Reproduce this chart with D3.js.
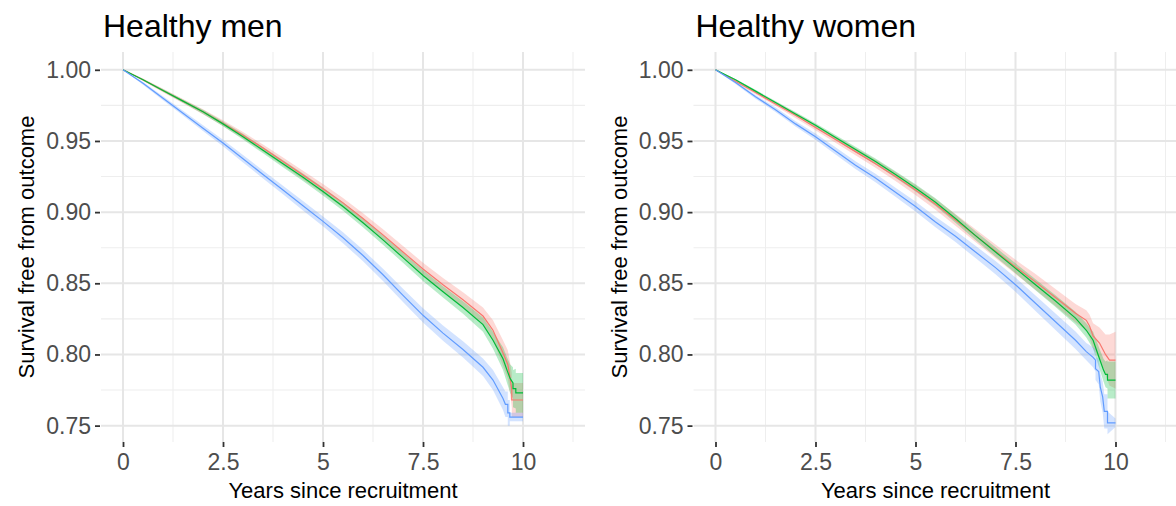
<!DOCTYPE html>
<html>
<head>
<meta charset="utf-8">
<script src="https://cdn.jsdelivr.net/npm/d3@7"></script>
<style>
  html, body { margin: 0; padding: 0; background: #ffffff; }
  svg { display: block; font-family: "Liberation Sans", Arial, sans-serif; }
</style>
</head>
<body>
<svg id="chart" width="1176" height="506"></svg>
<script>
// ---------------- DATA ----------------
const panelTitles = ["Healthy men", "Healthy women"];
const xTickValues = [0, 2.5, 5, 7.5, 10];
const xTickLabels = ["0", "2.5", "5", "7.5", "10"];
const xMinorValues = [1.25, 3.75, 6.25, 8.75, 11.25];
const yTickValues = [0.75, 0.80, 0.85, 0.90, 0.95, 1.00];
const yTickLabels = ["0.75", "0.80", "0.85", "0.90", "0.95", "1.00"];
const yMinorValues = [0.775, 0.825, 0.875, 0.925, 0.975];
const seriesColors = ["#F8766D", "#00BA38", "#619CFF"];

// common time grid (years) for the main part of each curve
const yearsGrid = [0, 0.5, 1, 1.5, 2, 2.5, 3, 3.5, 4, 4.5, 5, 5.5, 6, 6.5, 7, 7.5, 8, 8.5, 9];

// Healthy men: survival estimates on the grid
const menRed   = [1, 0.993, 0.9855, 0.978, 0.9705, 0.9625, 0.954, 0.945, 0.9355, 0.926, 0.9165, 0.9065, 0.8955, 0.884, 0.872, 0.860, 0.849, 0.8385, 0.827];
const menGreen = [1, 0.993, 0.9855, 0.978, 0.9705, 0.962, 0.953, 0.9435, 0.934, 0.9245, 0.9145, 0.904, 0.8925, 0.8805, 0.868, 0.8555, 0.844, 0.833, 0.821];
const menBlue  = [1, 0.9905, 0.980, 0.9695, 0.959, 0.9485, 0.9375, 0.9265, 0.9155, 0.9045, 0.8935, 0.882, 0.8695, 0.856, 0.8415, 0.8275, 0.815, 0.8035, 0.791];
// confidence half-widths on the grid
const menRedCI   = [0, 0.0008, 0.0012, 0.0015, 0.0018, 0.002, 0.0023, 0.0025, 0.0028, 0.003, 0.0032, 0.0035, 0.0037, 0.004, 0.0042, 0.0045, 0.0048, 0.0052, 0.006];
const menGreenCI = [0, 0.0006, 0.001, 0.0012, 0.0015, 0.0017, 0.002, 0.0022, 0.0024, 0.0026, 0.0028, 0.003, 0.0032, 0.0034, 0.0036, 0.0038, 0.004, 0.0044, 0.005];
const menBlueCI  = [0, 0.001, 0.0014, 0.0017, 0.002, 0.0023, 0.0026, 0.0028, 0.003, 0.0033, 0.0035, 0.0038, 0.004, 0.0043, 0.0046, 0.005, 0.0053, 0.0057, 0.0062];
// tails: [year, estimate, half-width]
const menRedTail   = [[9.25, 0.817, 0.007], [9.5, 0.801, 0.009], [9.62, 0.793, 0.010], [9.68, 0.783, 0.011], [9.72, 0.775, 0.012], [9.72, 0.768, 0.012], [10, 0.768, 0.012]];
const menGreenTail = [[9.25, 0.810, 0.006], [9.5, 0.797, 0.008], [9.6, 0.789, 0.009], [9.68, 0.783, 0.010], [9.75, 0.780, 0.011], [9.75, 0.776, 0.013], [9.82, 0.776, 0.014], [9.82, 0.773, 0.014], [10, 0.773, 0.014]];
const menBlueTail  = [[9.25, 0.782, 0.007], [9.5, 0.769, 0.008], [9.56, 0.765, 0.009], [9.62, 0.765, 0.009], [9.62, 0.759, 0.009], [9.67, 0.759, 0.009], [9.67, 0.756, 0.003], [10, 0.756, 0.003]];

// Healthy women
const womenRed   = [1, 0.992, 0.984, 0.976, 0.968, 0.9595, 0.951, 0.9425, 0.934, 0.925, 0.9155, 0.9055, 0.8945, 0.8835, 0.8725, 0.8615, 0.851, 0.840, 0.829];
const womenGreen = [1, 0.993, 0.985, 0.977, 0.969, 0.961, 0.9525, 0.944, 0.9355, 0.9265, 0.917, 0.907, 0.8955, 0.8835, 0.872, 0.8605, 0.849, 0.8375, 0.8255];
const womenBlue  = [1, 0.991, 0.981, 0.972, 0.962, 0.953, 0.943, 0.933, 0.924, 0.914, 0.904, 0.893, 0.883, 0.872, 0.861, 0.849, 0.836, 0.823, 0.810];
const womenRedCI   = [0, 0.0008, 0.0012, 0.0015, 0.0018, 0.002, 0.0023, 0.0026, 0.0029, 0.0032, 0.0035, 0.0038, 0.0041, 0.0044, 0.0047, 0.005, 0.0055, 0.006, 0.0065];
const womenGreenCI = [0, 0.0006, 0.0009, 0.0011, 0.0013, 0.0015, 0.0017, 0.0019, 0.0021, 0.0023, 0.0025, 0.0027, 0.0029, 0.0031, 0.0033, 0.0035, 0.0038, 0.0041, 0.0045];
const womenBlueCI  = [0, 0.0009, 0.0013, 0.0016, 0.0019, 0.0022, 0.0025, 0.0027, 0.003, 0.0032, 0.0035, 0.0037, 0.004, 0.0043, 0.0046, 0.005, 0.0054, 0.0058, 0.0062];
const womenRedTail   = [[9.27, 0.824, 0.007], [9.35, 0.820, 0.008], [9.44, 0.813, 0.009], [9.6, 0.808, 0.011], [9.75, 0.800, 0.014], [9.85, 0.796, 0.018], [10, 0.796, 0.020]];
const womenGreenTail = [[9.27, 0.817, 0.005], [9.44, 0.810, 0.006], [9.6, 0.797, 0.007], [9.7, 0.789, 0.008], [9.75, 0.786, 0.009], [9.8, 0.786, 0.010], [9.8, 0.782, 0.013], [10, 0.782, 0.013]];
const womenBlueTail  = [[9.27, 0.802, 0.006], [9.44, 0.798, 0.007], [9.5, 0.796, 0.008], [9.5, 0.790, 0.008], [9.58, 0.788, 0.009], [9.62, 0.777, 0.010], [9.68, 0.770, 0.011], [9.72, 0.760, 0.012], [9.8, 0.760, 0.012], [9.8, 0.752, 0.008], [10, 0.752, 0.003]];

// ---------------- DRAWING ----------------
const svg = d3.select("#chart");

function buildSeries(values, ci, tail) {
  const pts = yearsGrid.map((t, i) => ({ t: t, v: values[i], h: ci[i] }));
  tail.forEach(d => pts.push({ t: d[0], v: d[1], h: d[2] }));
  return pts;
}

const panels = [
  { left: 101, title: panelTitles[0],
    series: [buildSeries(menRed, menRedCI, menRedTail),
             buildSeries(menGreen, menGreenCI, menGreenTail),
             buildSeries(menBlue, menBlueCI, menBlueTail)] },
  { left: 693.5, title: panelTitles[1],
    series: [buildSeries(womenRed, womenRedCI, womenRedTail),
             buildSeries(womenGreen, womenGreenCI, womenGreenTail),
             buildSeries(womenBlue, womenBlueCI, womenBlueTail)] }
];

const panelWidth = 484, panelTop = 52, panelBottom = 442;

panels.forEach((p, pi) => {
  const x = d3.scaleLinear().domain([-0.55, 11.55]).range([p.left, p.left + panelWidth]);
  const y = d3.scaleLinear().domain([0.7385, 1.0125]).range([panelBottom, panelTop]);
  const g = svg.append("g");
  const clipId = "clip" + pi;
  svg.append("clipPath").attr("id", clipId).append("rect")
    .attr("x", p.left).attr("y", panelTop)
    .attr("width", panelWidth).attr("height", panelBottom - panelTop);

  // grid
  const grid = g.append("g");
  grid.selectAll("line.ymin").data(yMinorValues).join("line")
    .attr("x1", p.left).attr("x2", p.left + panelWidth)
    .attr("y1", d => y(d)).attr("y2", d => y(d))
    .attr("stroke", "#EEEEEE").attr("stroke-width", 1.1);
  grid.selectAll("line.xmin").data(xMinorValues).join("line")
    .attr("y1", panelTop).attr("y2", panelBottom)
    .attr("x1", d => x(d)).attr("x2", d => x(d))
    .attr("stroke", "#EEEEEE").attr("stroke-width", 1.1);
  grid.selectAll("line.ymaj").data(yTickValues).join("line")
    .attr("x1", p.left).attr("x2", p.left + panelWidth)
    .attr("y1", d => y(d)).attr("y2", d => y(d))
    .attr("stroke", "#E6E6E6").attr("stroke-width", 2);
  grid.selectAll("line.xmaj").data(xTickValues).join("line")
    .attr("y1", panelTop).attr("y2", panelBottom)
    .attr("x1", d => x(d)).attr("x2", d => x(d))
    .attr("stroke", "#E6E6E6").attr("stroke-width", 2);

  // ribbons
  const area = d3.area().x(d => x(d.t)).y0(d => y(d.v - d.h)).y1(d => y(d.v + d.h));
  const line = d3.line().x(d => x(d.t)).y(d => y(d.v));
  const plot = g.append("g").attr("clip-path", `url(#${clipId})`);
  p.series.forEach((s, si) => {
    plot.append("path").datum(s).attr("d", area)
      .attr("fill", seriesColors[si]).attr("fill-opacity", 0.28).attr("stroke", "none");
  });
  p.series.forEach((s, si) => {
    plot.append("path").datum(s).attr("d", line)
      .attr("fill", "none").attr("stroke", seriesColors[si]).attr("stroke-width", 1.2);
  });

  // axes
  const yAxis = d3.axisLeft(y).tickValues(yTickValues)
    .tickFormat((d, i) => yTickLabels[i]).tickSize(5).tickPadding(4);
  const ya = g.append("g").attr("transform", `translate(${p.left - 1},0)`).call(yAxis);
  ya.select(".domain").remove();
  ya.selectAll(".tick line").attr("stroke", "#333333").attr("stroke-width", 1.8);
  ya.selectAll(".tick text").attr("fill", "#4D4D4D").style("font-size", "23px")
    .attr("font-family", "Liberation Sans, Arial, sans-serif");

  const xAxis = d3.axisBottom(x).tickValues(xTickValues)
    .tickFormat((d, i) => xTickLabels[i]).tickSize(5).tickPadding(7);
  const xa = g.append("g").attr("transform", `translate(0,${panelBottom})`).call(xAxis);
  xa.select(".domain").remove();
  xa.selectAll(".tick line").attr("stroke", "#333333").attr("stroke-width", 1.8);
  xa.selectAll(".tick text").attr("fill", "#4D4D4D").style("font-size", "23px")
    .attr("font-family", "Liberation Sans, Arial, sans-serif");

  // titles
  g.append("text").attr("x", p.left + 2).attr("y", 37)
    .attr("font-size", 32).attr("fill", "#000").text(p.title);
  g.append("text").attr("x", p.left + panelWidth / 2).attr("y", 498)
    .attr("text-anchor", "middle").attr("font-size", 22).attr("fill", "#000")
    .text("Years since recruitment");
  g.append("text")
    .attr("transform", `translate(${p.left - 67},${(panelTop + panelBottom) / 2}) rotate(-90)`)
    .attr("text-anchor", "middle").attr("font-size", 22).attr("fill", "#000")
    .text("Survival free from outcome");
});
</script>
</body>
</html>
